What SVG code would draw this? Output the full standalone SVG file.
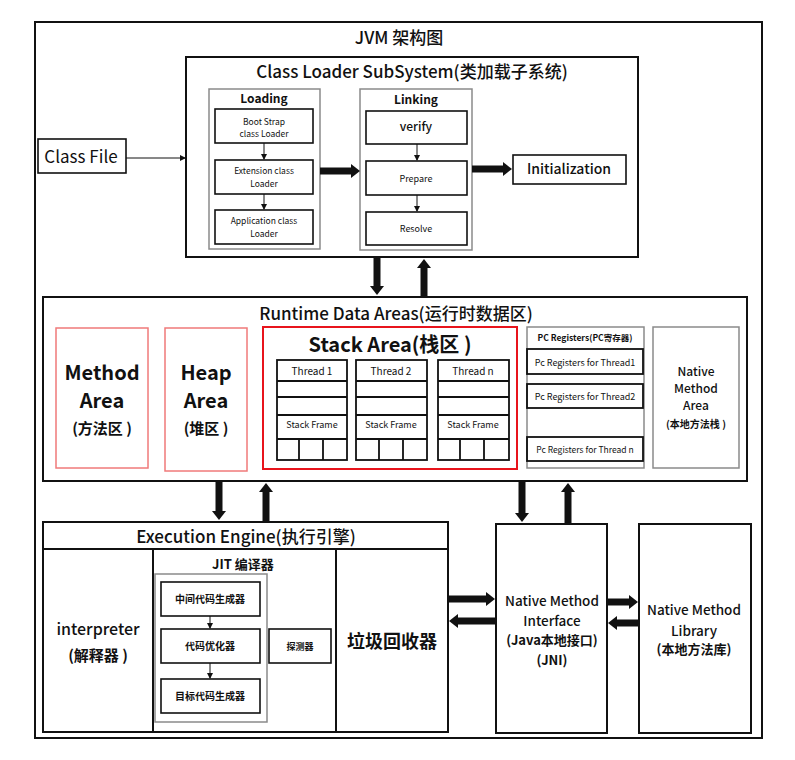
<svg xmlns="http://www.w3.org/2000/svg" width="795" height="760" viewBox="0 0 795 760">
<style>
text{font-family:"Noto Sans CJK SC","Noto Sans",sans-serif;text-anchor:middle;fill:#111}
.b{font-weight:bold}
.m{font-weight:500}
.box{fill:#fff;stroke:#111;stroke-width:2}
.in{fill:#fff;stroke:#111;stroke-width:1.6}
.grey{fill:#fff;stroke:#8a8a8a;stroke-width:1.5}
.cell{fill:none;stroke:#111;stroke-width:1.8}
.thin{stroke:#111;stroke-width:1;fill:none}
.thick{stroke:#111;stroke-width:7;fill:none}
</style>
<defs>
<marker id="ah" markerWidth="6" markerHeight="6" refX="5" refY="3" orient="auto" markerUnits="userSpaceOnUse"><path d="M0,0 L6,3 L0,6 z" fill="#111"/></marker>
<marker id="th" markerWidth="9" markerHeight="14" refX="1" refY="7" orient="auto" markerUnits="userSpaceOnUse"><path d="M0,0 L9,7 L0,14 z" fill="#111"/></marker>
</defs>
<rect width="795" height="760" fill="#fff"/>
<g id="frame">
<rect x="35" y="22" width="727" height="716" fill="#fff" stroke="#111" stroke-width="2"/>
<text x="399" y="44" font-size="17" class="m">JVM 架构图</text>
</g>
<g id="class-file">
<rect x="38" y="139" width="88" height="34" class="in"/>
<text x="81" y="163" font-size="17">Class File</text>
</g>
<g id="class-loader">
<rect x="186" y="57" width="452" height="200" class="box"/>
<text x="412" y="78" font-size="17" class="m">Class Loader SubSystem(类加载子系统)</text>
</g>
<g id="loading">
<rect x="209" y="89" width="111" height="160" class="grey"/>
<text x="264" y="103" font-size="12" class="b">Loading</text>
</g>
<g id="bootstrap">
<rect x="215" y="109" width="98" height="34" class="in"/>
<text x="264" y="125" font-size="8.5">Boot Strap</text>
<text x="264" y="137" font-size="8.5">class Loader</text>
</g>
<g id="extension">
<rect x="215" y="160" width="98" height="34" class="in"/>
<text x="264" y="174" font-size="8.5">Extension class</text>
<text x="264" y="187" font-size="8.5">Loader</text>
</g>
<g id="application">
<rect x="215" y="210" width="98" height="34" class="in"/>
<text x="264" y="224" font-size="8.5">Application class</text>
<text x="264" y="237" font-size="8.5">Loader</text>
</g>
<g id="linking">
<rect x="360" y="89" width="112" height="161" class="grey"/>
<text x="416" y="104" font-size="12" class="b">Linking</text>
</g>
<g id="verify">
<rect x="366" y="111" width="101" height="33" class="in"/>
<text x="416" y="131" font-size="12" class="m">verify</text>
</g>
<g id="prepare">
<rect x="366" y="161" width="101" height="34" class="in"/>
<text x="416" y="182" font-size="9">Prepare</text>
</g>
<g id="resolve">
<rect x="366" y="212" width="101" height="33" class="in"/>
<text x="416" y="232" font-size="9">Resolve</text>
</g>
<g id="initialization">
<rect x="513" y="155" width="113" height="29" class="in"/>
<text x="569" y="174" font-size="14" class="m">Initialization</text>
</g>
<g id="runtime">
<rect x="43" y="297" width="704" height="184" class="box"/>
<text x="396" y="320" font-size="17" class="m">Runtime Data Areas(运行时数据区)</text>
</g>
<g id="method-area">
<rect x="56" y="328" width="92" height="140" fill="#fff" stroke="#f07a7a" stroke-width="1.5"/>
<text x="102" y="380" font-size="20" class="b">Method</text>
<text x="102" y="408" font-size="20" class="b">Area</text>
<text x="102" y="434" font-size="15" class="b">(方法区 )</text>
</g>
<g id="heap-area">
<rect x="165" y="328" width="82" height="143" fill="#fff" stroke="#f07a7a" stroke-width="1.5"/>
<text x="206" y="380" font-size="20" class="b">Heap</text>
<text x="206" y="408" font-size="20" class="b">Area</text>
<text x="206" y="434" font-size="15" class="b">(堆区 )</text>
</g>
<g id="stack-area">
<rect x="263" y="327" width="254" height="142" fill="#fff" stroke="#e8141c" stroke-width="2"/>
<text x="390" y="352" font-size="20" class="b">Stack Area(栈区 )</text>
</g>
<g id="thread1">
<rect x="277" y="360" width="70" height="100" class="cell"/>
<path d="M277,381H347M277,397H347M277,415H347M277,439H347M299,439V460M323,439V460" class="cell"/>
<text x="312" y="375" font-size="10" fill="#333">Thread 1</text>
<text x="312" y="428" font-size="9" fill="#333">Stack Frame</text>
</g>
<g id="thread2">
<rect x="356" y="360" width="71" height="100" class="cell"/>
<path d="M356,381H427M356,397H427M356,415H427M356,439H427M379,439V460M403,439V460" class="cell"/>
<text x="391" y="375" font-size="10" fill="#333">Thread 2</text>
<text x="391" y="428" font-size="9" fill="#333">Stack Frame</text>
</g>
<g id="threadn">
<rect x="438" y="360" width="71" height="100" class="cell"/>
<path d="M438,381H509M438,397H509M438,415H509M438,439H509M460,439V460M484,439V460" class="cell"/>
<text x="473" y="375" font-size="10" fill="#333">Thread n</text>
<text x="473" y="428" font-size="9" fill="#333">Stack Frame</text>
</g>
<g id="pc-registers">
<rect x="527" y="327" width="117" height="141" class="grey"/>
<text x="585" y="341" font-size="8.5" class="b">PC Registers(PC寄存器)</text>
<rect x="527" y="349" width="116" height="25" class="cell"/>
<text x="585" y="366" font-size="9" fill="#333">Pc Registers for Thread1</text>
<rect x="527" y="384" width="116" height="24" class="cell"/>
<text x="585" y="400" font-size="9" fill="#333">Pc Registers for Thread2</text>
<rect x="527" y="437" width="116" height="24" class="cell"/>
<text x="585" y="453" font-size="8.5" fill="#333">Pc Registers for Thread n</text>
</g>
<g id="native-method-area">
<rect x="653" y="327" width="86" height="141" class="grey"/>
<text x="696" y="376" font-size="12" class="m">Native</text>
<text x="696" y="393" font-size="12" class="m">Method</text>
<text x="696" y="410" font-size="12" class="m">Area</text>
<text x="696" y="428" font-size="10" class="b">(本地方法栈 )</text>
</g>
<g id="execution-engine">
<rect x="43" y="522" width="405" height="210" class="box"/>
<path d="M43,549H448M153,549V732M336,549V732" stroke="#111" stroke-width="2" fill="none"/>
<text x="246" y="543" font-size="17" class="m">Execution Engine(执行引擎)</text>
</g>
<g id="interpreter">
<text x="98" y="635" font-size="16" class="m">interpreter</text>
<text x="98" y="661" font-size="15" class="b">(解释器 )</text>
</g>
<g id="jit">
<text x="243" y="569" font-size="13" class="b">JIT 编译器</text>
<rect x="155" y="574" width="112" height="148" class="grey"/>
</g>
<g id="ir-gen">
<rect x="161" y="582" width="99" height="34" class="in"/>
<text x="210" y="603" font-size="10" class="b">中间代码生成器</text>
</g>
<g id="optimizer">
<rect x="161" y="629" width="99" height="34" class="in"/>
<text x="210" y="650" font-size="10" class="b">代码优化器</text>
</g>
<g id="target-gen">
<rect x="161" y="679" width="99" height="34" class="in"/>
<text x="210" y="700" font-size="10" class="b">目标代码生成器</text>
</g>
<g id="profiler">
<rect x="269" y="629" width="62" height="34" class="in"/>
<text x="300" y="650" font-size="9" class="b">探测器</text>
</g>
<g id="gc">
<text x="392" y="648" font-size="18" class="b">垃圾回收器</text>
</g>
<g id="jni">
<rect x="496" y="524" width="111" height="209" class="box"/>
<text x="552" y="606" font-size="13.5" class="m">Native Method</text>
<text x="552" y="626" font-size="13.5" class="m">Interface</text>
<text x="552" y="645" font-size="13" class="b">(Java本地接口)</text>
<text x="552" y="665" font-size="13" class="b">(JNI)</text>
</g>
<g id="native-library">
<rect x="639" y="524" width="112" height="209" class="box"/>
<text x="694" y="615" font-size="13.5" class="m">Native Method</text>
<text x="694" y="636" font-size="13.5" class="m">Library</text>
<text x="694" y="654" font-size="13" class="b">(本地方法库)</text>
</g>
<g id="connectors">
<line x1="126" y1="158" x2="185" y2="158" class="thin" marker-end="url(#ah)"/>
<line x1="264" y1="143" x2="264" y2="159" class="thin" marker-end="url(#ah)"/>
<line x1="264" y1="194" x2="264" y2="209" class="thin" marker-end="url(#ah)"/>
<line x1="417" y1="144" x2="417" y2="160" class="thin" marker-end="url(#ah)"/>
<line x1="417" y1="195" x2="417" y2="211" class="thin" marker-end="url(#ah)"/>
<line x1="210" y1="616" x2="210" y2="628" class="thin" marker-end="url(#ah)"/>
<line x1="210" y1="663" x2="210" y2="678" class="thin" marker-end="url(#ah)"/>
<line x1="320" y1="171" x2="352" y2="171" class="thick" marker-end="url(#th)"/>
<line x1="472" y1="169" x2="504" y2="169" class="thick" marker-end="url(#th)"/>
<line x1="377" y1="257" x2="377" y2="287" class="thick" marker-end="url(#th)"/>
<line x1="424" y1="297" x2="424" y2="267" class="thick" marker-end="url(#th)"/>
<line x1="219" y1="481" x2="219" y2="512" class="thick" marker-end="url(#th)"/>
<line x1="266" y1="522" x2="266" y2="491" class="thick" marker-end="url(#th)"/>
<line x1="522" y1="481" x2="522" y2="514" class="thick" marker-end="url(#th)"/>
<line x1="568" y1="524" x2="568" y2="491" class="thick" marker-end="url(#th)"/>
<line x1="448" y1="599" x2="487" y2="599" class="thick" marker-end="url(#th)"/>
<line x1="496" y1="621" x2="457" y2="621" class="thick" marker-end="url(#th)"/>
<line x1="607" y1="602" x2="630" y2="602" class="thick" marker-end="url(#th)"/>
<line x1="639" y1="623" x2="616" y2="623" class="thick" marker-end="url(#th)"/>
</g>
</svg>
